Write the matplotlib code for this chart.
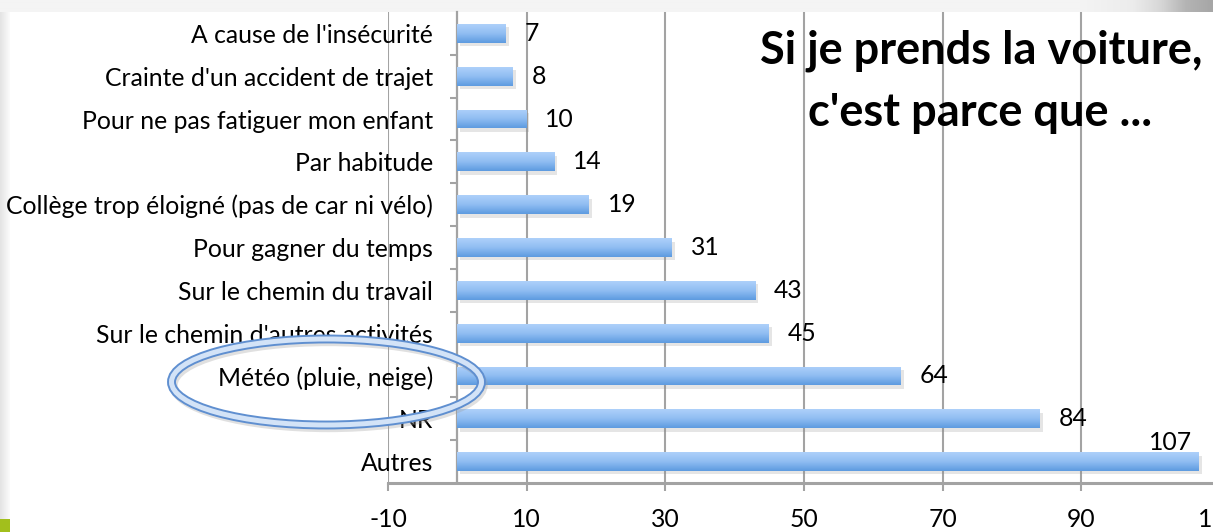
import matplotlib
matplotlib.use('Agg')
import matplotlib.pyplot as plt
import numpy as np
from matplotlib.patches import Ellipse, Rectangle
import matplotlib.patheffects as pe
from matplotlib.colors import LinearSegmentedColormap

# ---------------- data ----------------
categories = [
    "A cause de l'insécurité",
    "Crainte d'un accident de trajet",
    "Pour ne pas fatiguer mon enfant",
    "Par habitude",
    "Collège trop éloigné (pas de car ni vélo)",
    "Pour gagner du temps",
    "Sur le chemin du travail",
    "Sur le chemin d'autres activités",
    "Météo (pluie, neige)",
    "NR",
    "Autres",
]
values = [7, 8, 10, 14, 19, 31, 43, 45, 64, 84, 107]
x_ticks = [-10, 10, 30, 50, 70, 90, 110]
title_lines = ["Si je prends la voiture,", "c'est parce que ..."]
highlight = "Météo (pluie, neige)"

plt.rcParams['font.family'] = ['Lato', 'DejaVu Sans']
FS = 17.8

W, H = 1213, 532
fig = plt.figure(figsize=(W / 100, H / 100), dpi=100)

# ---------- background decorations (pixel coords, y down) ----------
bg = fig.add_axes([0, 0, 1, 1], zorder=-5)
bg.set_xlim(0, W)
bg.set_ylim(H, 0)
bg.axis('off')
top_cmap = LinearSegmentedColormap.from_list('top', ['#f4f4f4', '#f0f0f0', '#ececec', '#d8d8d8', '#b4b4b4', '#a6a6a6'])
row = np.concatenate([np.zeros(1080), np.linspace(0, 1, W - 1080)]).reshape(1, -1)
row = np.vstack([row, row])
bg.imshow(row, cmap=top_cmap, extent=(0, W, 12, 0), aspect='auto', vmin=0, vmax=1,
          interpolation='bilinear')
left_cmap = LinearSegmentedColormap.from_list('left', ['#e4e4e4', '#fbfbfb'])
bg.imshow(np.linspace(0, 1, 20).reshape(1, -1), cmap=left_cmap, extent=(0, 10, 519, 12),
          aspect='auto', interpolation='bilinear')
bg.add_patch(Rectangle((0, 519), 10, 13, color='#a2bf1c', lw=0))

# ---------------- main axes ----------------
ax = fig.add_axes([388 / W, (H - 483) / H, (1220 - 388) / W, (483 - 12) / H])
n = len(categories)
ypos = np.arange(n)[::-1]

bars = ax.barh(ypos, values, height=0.44, color='#7fb2ec', lw=0, zorder=3)
cmap = LinearSegmentedColormap.from_list('bar', ['#aed0fa', '#90bdf2', '#5d9be0'])
grad = np.linspace(0, 1, 64).reshape(-1, 1)
for b in bars:
    b.set_path_effects([pe.SimplePatchShadow(offset=(2, -2.5), shadow_rgbFace='#8a8a8a', alpha=0.22),
                        pe.Normal()])
    x0, y0, w, h = b.get_x(), b.get_y(), b.get_width(), b.get_height()
    im = ax.imshow(grad, cmap=cmap, extent=(x0, x0 + w, y0, y0 + h), aspect='auto',
                   zorder=4, interpolation='bilinear')
    im.set_clip_path(b)

ax.set_xlim(-10, 110)
ax.set_ylim(-0.5, n - 0.5)
ax.set_aspect('auto')

# value labels
vmax = max(values)
for y, v in zip(ypos, values):
    if v == vmax:
        ax.annotate(str(v), xy=(v, y), xytext=(-5, 14), textcoords='offset points',
                    ha='right', va='center', fontsize=FS, color='black', zorder=6)
    else:
        ax.annotate(str(v), xy=(v, y), xytext=(13.5, 0), textcoords='offset points',
                    ha='left', va='center', fontsize=FS, color='black', zorder=6)

# spines, grid, ticks
gray = '#a3a3a3'
for s in ['top', 'right']:
    ax.spines[s].set_visible(False)
ax.spines['left'].set_position(('data', 0))
ax.spines['left'].set_color(gray)
ax.spines['left'].set_linewidth(1.6)
ax.spines['bottom'].set_color(gray)
ax.spines['bottom'].set_linewidth(2.2)
ax.set_xticks(x_ticks)
ax.set_xticklabels([str(t) for t in x_ticks])
ax.xaxis.grid(True, color=gray, lw=1.5, zorder=0)
ax.set_axisbelow(True)
ax.tick_params(axis='x', length=6, width=1.5, color=gray, labelsize=FS, pad=12)
ax.set_yticks(ypos)
ax.set_yticklabels(categories)
ax.set_yticks(np.arange(n - 1) + 0.5, minor=True)
ax.tick_params(axis='y', which='major', length=0, labelsize=FS, pad=17.5)
ax.tick_params(axis='y', which='minor', length=5, width=1.5, color=gray, direction='out')
ax.patch.set_alpha(0)

# title
fig.text(981 / W, 1 - 63 / H, title_lines[0], ha='center', va='baseline', fontsize=32.5,
         fontweight='bold')
fig.text(980 / W, 1 - 126 / H, title_lines[1], ha='center', va='baseline', fontsize=32.5,
         fontweight='bold')

# highlight ellipse around the chosen category label
cx, cy = 326.5 / W, 1 - 382 / H
ew, eh = 310 / W, 86 / H
shadow = Ellipse((cx + 2 / W, cy - 3 / H), ew, eh, transform=fig.transFigure, fill=False,
                 ec='#9a9a9a', lw=6, alpha=0.3, zorder=10)
outer = Ellipse((cx, cy), ew, eh, transform=fig.transFigure, fill=False,
                ec='#5f8fd0', lw=6.4, zorder=11)
inner = Ellipse((cx, cy), ew, eh, transform=fig.transFigure, fill=False,
                ec='#d3e3f7', lw=3.6, zorder=12)
for e in (shadow, outer, inner):
    fig.add_artist(e)

fig.savefig('out.png', dpi=100)
